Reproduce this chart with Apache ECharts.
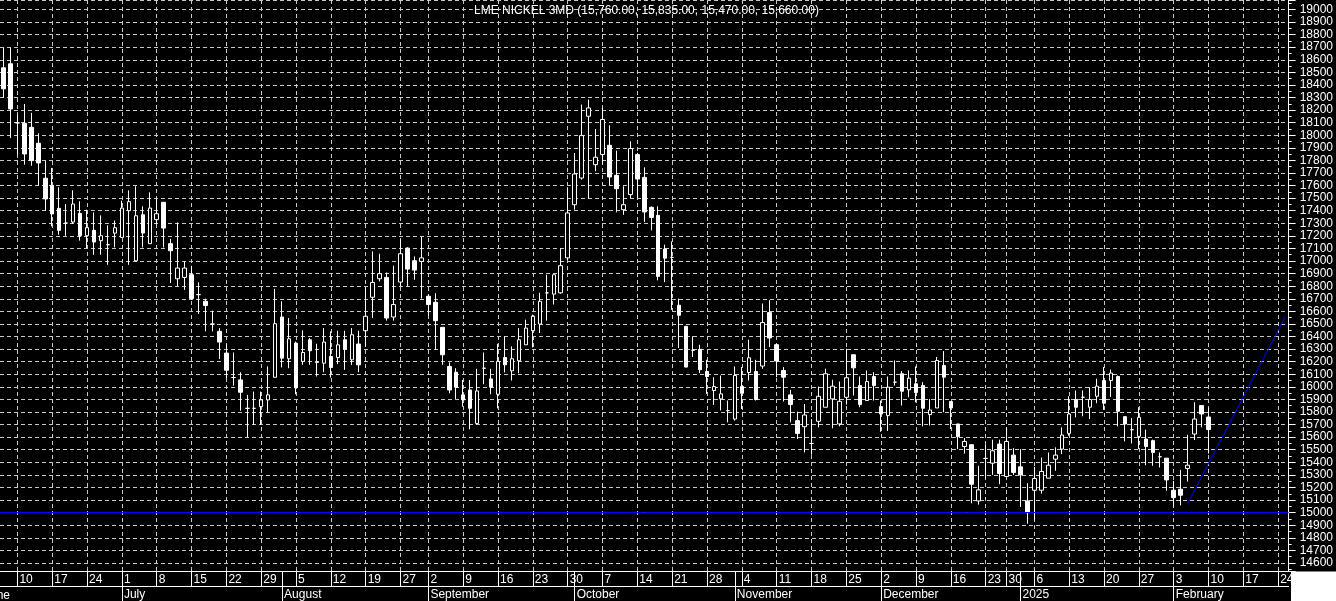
<!DOCTYPE html>
<html><head><meta charset="utf-8">
<script src="https://cdn.jsdelivr.net/npm/echarts@6/dist/echarts.min.js"></script>
<style>html,body{margin:0;padding:0;background:#000;}#c{width:1336px;height:601px;}</style>
</head><body><div id="c"></div>
<script>
// ---- data ----
const dates = [
'2024-06-06','2024-06-07','2024-06-10','2024-06-11','2024-06-12','2024-06-13','2024-06-14','2024-06-17','2024-06-18','2024-06-19','2024-06-20','2024-06-21','2024-06-24','2024-06-25','2024-06-26','2024-06-27','2024-06-28',
'2024-07-01','2024-07-02','2024-07-03','2024-07-04','2024-07-05','2024-07-08','2024-07-09','2024-07-10','2024-07-11','2024-07-12','2024-07-15','2024-07-16','2024-07-17','2024-07-18','2024-07-19','2024-07-22','2024-07-23','2024-07-24','2024-07-25','2024-07-26','2024-07-29','2024-07-30','2024-07-31',
'2024-08-01','2024-08-02','2024-08-05','2024-08-06','2024-08-07','2024-08-08','2024-08-09','2024-08-12','2024-08-13','2024-08-14','2024-08-15','2024-08-16','2024-08-19','2024-08-20','2024-08-21','2024-08-22','2024-08-23','2024-08-27','2024-08-28','2024-08-29','2024-08-30',
'2024-09-02','2024-09-03','2024-09-04','2024-09-05','2024-09-06','2024-09-09','2024-09-10','2024-09-11','2024-09-12','2024-09-13','2024-09-16','2024-09-17','2024-09-18','2024-09-19','2024-09-20','2024-09-23','2024-09-24','2024-09-25','2024-09-26','2024-09-27','2024-09-30',
'2024-10-01','2024-10-02','2024-10-03','2024-10-04','2024-10-07','2024-10-08','2024-10-09','2024-10-10','2024-10-11','2024-10-14','2024-10-15','2024-10-16','2024-10-17','2024-10-18','2024-10-21','2024-10-22','2024-10-23','2024-10-24','2024-10-25','2024-10-28','2024-10-29','2024-10-30','2024-10-31',
'2024-11-01','2024-11-04','2024-11-05','2024-11-06','2024-11-07','2024-11-08','2024-11-11','2024-11-12','2024-11-13','2024-11-14','2024-11-15','2024-11-18','2024-11-19','2024-11-20','2024-11-21','2024-11-22','2024-11-25','2024-11-26','2024-11-27','2024-11-28','2024-11-29',
'2024-12-02','2024-12-03','2024-12-04','2024-12-05','2024-12-06','2024-12-09','2024-12-10','2024-12-11','2024-12-12','2024-12-13','2024-12-16','2024-12-17','2024-12-18','2024-12-19','2024-12-20','2024-12-23','2024-12-24','2024-12-27','2024-12-30','2024-12-31',
'2025-01-02','2025-01-03','2025-01-06','2025-01-07','2025-01-08','2025-01-09','2025-01-10','2025-01-13','2025-01-14','2025-01-15','2025-01-16','2025-01-17','2025-01-20','2025-01-21','2025-01-22','2025-01-23','2025-01-24','2025-01-27','2025-01-28','2025-01-29','2025-01-30','2025-01-31',
'2025-02-03','2025-02-04','2025-02-05','2025-02-06','2025-02-07','2025-02-10','2025-02-11','2025-02-12','2025-02-13','2025-02-14','2025-02-17','2025-02-18','2025-02-19','2025-02-20','2025-02-21','2025-02-24','2025-02-25'
];
const open = [
18536,18568,18098,18095,18063,17936,17658,17602,17419,17302,17310,17379,17201,17244,17162,17130,17222,
17188,17400,17002,17368,17138,17329,17467,17138,16859,16870,16891,16733,16680,16499,16441,16268,16074,16055,15829,15829,15842,15896,16076,
16555,16223,16348,16202,16374,16194,16188,16241,16233,16374,16215,16340,16446,16712,16859,16870,16555,16833,17103,17002,16997,
16720,16672,16473,16162,16116,15936,15975,15709,16148,16063,15941,16233,16127,16207,16334,16446,16499,16747,16737,16747,17025,
17448,17660,18151,17766,17846,17920,17681,17408,17528,17846,17665,17427,17363,17095,17029,16649,16481,16290,16298,16122,15971,15904,15811,
15744,16002,16114,16122,16165,16590,16335,16130,15936,15731,15683,15550,15726,15838,15904,15705,15917,16255,16010,15891,16082,
15843,15771,16037,16104,15976,16024,16010,15779,15832,16170,15883,15705,15526,15540,15093,15431,15393,15545,15287,15457,
15364,15093,15178,15178,15274,15425,15505,15630,15899,15917,15838,15925,16050,16050,16082,15763,15659,15606,15585,15572,15444,15433,
15178,15186,15351,15625,15851,15760
];
const close = [
18369,18209,18098,17851,17798,17780,17493,17374,17244,17302,17453,17201,17265,17151,17201,17130,17265,
17421,17472,17360,17222,17421,17376,17262,17082,16944,16944,16702,16733,16646,16499,16356,16132,16074,15957,15829,15829,15896,15936,16502,
16228,16382,15994,16273,16287,16194,16356,16154,16334,16300,16414,16175,16561,16830,16899,16547,16654,17058,16936,16928,17025,
16654,16526,16255,15975,15997,15896,15829,15967,16148,15997,16202,16175,16223,16374,16467,16561,16680,16747,16891,16963,17382,
17692,17997,18217,17825,18125,17668,17575,17448,17894,17652,17390,17347,16878,17023,17029,16569,16157,16290,16136,16082,16002,15944,15811,
16090,15949,16231,15899,16511,16388,16205,16077,15859,15630,15776,15550,15925,16104,16005,15885,16072,16151,15859,16042,16010,
15784,15997,16037,15965,16069,15955,15830,15816,16210,16077,15832,15603,15566,15226,15181,15431,15492,15311,15566,15319,
15300,15000,15271,15327,15377,15457,15617,15784,15838,15917,15899,16005,15870,16109,15806,15705,15659,15758,15526,15478,15444,15260,
15119,15138,15377,15744,15784,15660
];
const low = [
18297,17979,17851,17766,17758,17600,17400,17276,17209,17201,17294,17162,17103,17050,17050,16970,17108,
17183,16970,16997,17108,17138,17294,17108,16825,16798,16771,16690,16579,16441,16441,16220,16069,16010,15810,15598,15696,15696,15797,16076,
16154,16148,15941,16175,16175,16082,16116,16074,16180,16135,16175,16116,16321,16547,16838,16526,16526,16800,16798,16851,16702,
16561,16295,16175,15949,15904,15842,15662,15700,16021,15941,15829,16114,16050,16108,16334,16313,16428,16526,16654,16740,17010,
17408,17647,17496,17713,17766,17599,17387,17368,17501,17501,17310,17244,16846,16832,16612,16308,16157,16237,16109,15944,15856,15812,15718,
15731,15824,16050,15891,16144,16316,16077,15883,15718,15585,15478,15460,15678,15838,15670,15686,15859,15931,15838,15891,15891,
15643,15649,16010,15851,15917,15877,15686,15692,15832,15798,15665,15505,15470,15074,15064,15271,15300,15226,15287,15300,
15045,14912,14946,15151,15274,15333,15465,15611,15758,15766,15744,15870,15816,15920,15686,15566,15550,15505,15377,15372,15359,15173,
15042,15058,15247,15577,15678,15470
];
const high = [
18695,18695,18164,18249,18178,18016,17798,17740,17586,17453,17562,17475,17408,17387,17363,17284,17323,
17480,17562,17594,17435,17546,17496,17467,17177,17307,16997,16962,16830,16700,16606,16467,16342,16273,16116,15936,15962,15962,16162,16779,
16680,16547,16360,16449,16388,16342,16467,16441,16446,16446,16467,16446,16790,17077,17058,16909,16963,17170,17110,17037,17191,
16733,16745,16473,16194,16148,16055,16055,16143,16273,16143,16342,16401,16321,16467,16534,16574,16747,16891,16891,17103,17586,
17859,18244,18284,18050,18217,18079,17878,17594,17952,17860,17745,17435,17435,17130,17156,16702,16481,16402,16335,16215,16077,16090,15891,
16162,16157,16375,16215,16662,16689,16340,16157,15976,15803,15864,15744,16002,16144,16056,16042,16303,16255,16082,16130,16117,
15891,16082,16210,16125,16130,16162,16037,15904,16237,16284,15883,15705,15593,15545,15372,15537,15580,15580,15678,15513,
15505,15234,15364,15438,15478,15519,15678,15925,15971,15971,15997,16064,16157,16138,16090,15763,15752,15838,15659,15580,15478,15433,
15252,15340,15619,15877,15851,15835
];
const supportLevel = 15000;
const trendLine = [['2025-02-05', 15073], ['2025-02-25', 16555]];
const titleText = 'LME NICKEL 3MD (15,760.00, 15,835.00, 15,470.00, 15,660.00)';
const monthLabels = ['2025','February','March','April','May','June','July','August','September','October','November','December'];
const firstMonthLabel = 'June';
const yMin = 14536, yMax = 19075, yStep = 100;

// ---- helpers ----
const FONT = '"Liberation Sans", Arial, sans-serif';
const wd = d => new Date(d + 'T00:00:00Z').getUTCDay();
const mo = d => +d.slice(5, 7);
const isWeekStart = i => i > 0 && wd(dates[i]) < wd(dates[i - 1]);
const isMonthStart = i => i > 0 && mo(dates[i]) !== mo(dates[i - 1]);
const ohlc = open.map((o, i) => [o, close[i], low[i], high[i]]);
const GRID = '#c8c8c8';

const chart = echarts.init(document.getElementById('c'), null, {renderer: 'canvas'});
chart.setOption({
  animation: false,
  backgroundColor: '#000',
  title: {
    text: titleText, left: 474, top: 5, padding: 0,
    textStyle: {color: '#fff', fontSize: 12, fontWeight: 'normal', fontFamily: FONT}
  },
  grid: {left: 0, right: 45.5, top: -1, bottom: 30, containLabel: false},
  xAxis: [
    {
      type: 'category', data: dates, boundaryGap: true, position: 'bottom',
      axisLine: {show: true, lineStyle: {color: '#fff', width: 1}},
      axisTick: {show: true, alignWithLabel: true, length: 15,
        interval: (i) => isWeekStart(i) || isMonthStart(i), lineStyle: {color: '#fff', width: 1}},
      axisLabel: {show: true, interval: (i) => isWeekStart(i),
        formatter: (v) => String(+v.slice(8)), color: '#fff', fontSize: 12, fontFamily: FONT,
        align: 'left', padding: [0, 0, 0, 2], margin: 3},
      splitLine: {show: true, alignWithLabel: true, interval: (i) => isWeekStart(i),
        lineStyle: {color: GRID, type: [4, 3], width: 1}}
    },
    {
      type: 'category', data: dates, boundaryGap: true, position: 'bottom', offset: 15,
      axisLine: {show: true, lineStyle: {color: '#fff', width: 1}},
      axisTick: {show: true, alignWithLabel: true, length: 15,
        interval: (i) => isMonthStart(i), lineStyle: {color: '#fff', width: 1}},
      axisLabel: {show: true, interval: (i) => isMonthStart(i),
        formatter: (v) => monthLabels[mo(v) - 1], color: '#fff', fontSize: 12, fontFamily: FONT,
        align: 'left', padding: [0, 0, 0, 2], margin: 3},
      splitLine: {show: false}
    }
  ],
  yAxis: {
    type: 'value', position: 'right', min: yMin, max: yMax,
    splitNumber: 45, minInterval: yStep, maxInterval: yStep,
    axisLine: {show: true, lineStyle: {color: '#fff', width: 1}},
    axisTick: {show: true, length: 7, lineStyle: {color: '#fff'}},
    minorTick: {show: true, splitNumber: 2, length: 3, lineStyle: {color: '#fff'}},
    minorSplitLine: {show: false},
    axisLabel: {color: '#fff', fontSize: 12, fontFamily: FONT, margin: 11, padding: [5, 0, 0, 0],
      formatter: (v) => (Math.round(v) % yStep === 0 ? String(Math.round(v)) : '')},
    splitLine: {show: true, lineStyle: {color: GRID, type: [4, 3], width: 1}}
  },
  series: [{
    type: 'candlestick', data: ohlc, barWidth: 4,
    itemStyle: {color: '#000', color0: '#fff', borderColor: '#fff', borderColor0: '#fff',
      borderColorDoji: '#fff', borderWidth: 1},
    markLine: {
      silent: true, symbol: ['none', 'none'], label: {show: false}, animation: false,
      lineStyle: {color: '#0000ff', width: 1, type: 'solid'},
      emphasis: {disabled: true},
      data: [
        {yAxis: supportLevel},
        [{coord: trendLine[0]}, {coord: trendLine[1]}]
      ]
    }
  }],
  graphic: [
    {type: 'rect', x: 1291, y: 571.5, shape: {width: 45, height: 30}, style: {fill: '#fff'}, z: 100},
    {type: 'text', x: -16, y: 590, style: {text: firstMonthLabel, fill: '#fff', font: '12px ' + FONT}, z: 100}
  ]
});
</script>
</body></html>
